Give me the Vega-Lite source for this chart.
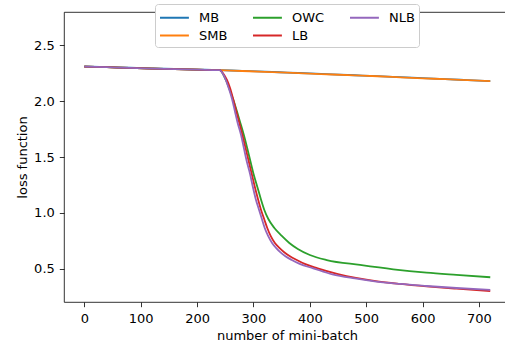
{
"$schema": "https://vega.github.io/schema/vega-lite/v6.json",
"autosize": "none",
"width": 446,
"height": 290,
"padding": {"left": 64, "top": 12, "right": 0, "bottom": 43},
"background": "white",
"config": {
  "font": "DejaVu Sans",
  "view": {"stroke": "#000", "strokeWidth": 0.8},
  "axis": {"grid": false, "domain": false, "tickColor": "#000", "tickSize": 4.7, "tickWidth": 0.8, "labelFontSize": 13, "labelColor": "#000", "titleFontSize": 13, "titleFontWeight": "normal", "titleColor": "#000"},
  "axisX": {"labelPadding": 6, "titlePadding": 4},
  "axisY": {"labelPadding": 5, "titlePadding": 4.5},
  "legend": {"fillColor": "white", "strokeColor": "#cccccc", "cornerRadius": 3, "padding": 4, "labelFontSize": 13, "labelColor": "#000", "symbolStrokeWidth": 2, "symbolSize": 289, "labelOffset": 21, "columnPadding": 21, "rowPadding": 1}
},
"data": {"values": [
{"method":"MB","batch":0,"loss":2.309},{"method":"MB","batch":40,"loss":2.303},{"method":"MB","batch":80,"loss":2.297},{"method":"MB","batch":120,"loss":2.291},{"method":"MB","batch":160,"loss":2.286},{"method":"MB","batch":200,"loss":2.281},{"method":"MB","batch":240,"loss":2.276},{"method":"MB","batch":280,"loss":2.269},{"method":"MB","batch":320,"loss":2.262},{"method":"MB","batch":360,"loss":2.254},{"method":"MB","batch":400,"loss":2.246},{"method":"MB","batch":440,"loss":2.238},{"method":"MB","batch":480,"loss":2.23},{"method":"MB","batch":520,"loss":2.222},{"method":"MB","batch":560,"loss":2.213},{"method":"MB","batch":600,"loss":2.204},{"method":"MB","batch":640,"loss":2.196},{"method":"MB","batch":680,"loss":2.187},{"method":"MB","batch":720,"loss":2.178},
{"method":"SMB","batch":0,"loss":2.308},{"method":"SMB","batch":40,"loss":2.302},{"method":"SMB","batch":80,"loss":2.296},{"method":"SMB","batch":120,"loss":2.29},{"method":"SMB","batch":160,"loss":2.285},{"method":"SMB","batch":200,"loss":2.28},{"method":"SMB","batch":240,"loss":2.275},{"method":"SMB","batch":280,"loss":2.268},{"method":"SMB","batch":320,"loss":2.261},{"method":"SMB","batch":360,"loss":2.253},{"method":"SMB","batch":400,"loss":2.245},{"method":"SMB","batch":440,"loss":2.237},{"method":"SMB","batch":480,"loss":2.229},{"method":"SMB","batch":520,"loss":2.221},{"method":"SMB","batch":560,"loss":2.212},{"method":"SMB","batch":600,"loss":2.203},{"method":"SMB","batch":640,"loss":2.195},{"method":"SMB","batch":680,"loss":2.186},{"method":"SMB","batch":720,"loss":2.177},
{"method":"OWC","batch":0,"loss":2.308},{"method":"OWC","batch":40,"loss":2.302},{"method":"OWC","batch":80,"loss":2.296},{"method":"OWC","batch":120,"loss":2.29},{"method":"OWC","batch":160,"loss":2.285},{"method":"OWC","batch":200,"loss":2.28},{"method":"OWC","batch":240,"loss":2.275},{"method":"OWC","batch":251,"loss":2.188},{"method":"OWC","batch":258,"loss":2.098},{"method":"OWC","batch":264.4,"loss":2.009},{"method":"OWC","batch":276.8,"loss":1.804},{"method":"OWC","batch":283,"loss":1.696},{"method":"OWC","batch":288.9,"loss":1.58},{"method":"OWC","batch":294.5,"loss":1.464},{"method":"OWC","batch":300.2,"loss":1.348},{"method":"OWC","batch":306.9,"loss":1.232},{"method":"OWC","batch":313.1,"loss":1.125},{"method":"OWC","batch":319.3,"loss":1.027},{"method":"OWC","batch":326.4,"loss":0.946},{"method":"OWC","batch":337.1,"loss":0.866},{"method":"OWC","batch":350.3,"loss":0.795},{"method":"OWC","batch":363.6,"loss":0.732},{"method":"OWC","batch":378.7,"loss":0.679},{"method":"OWC","batch":400,"loss":0.625},{"method":"OWC","batch":430,"loss":0.58},{"method":"OWC","batch":489,"loss":0.536},{"method":"OWC","batch":548,"loss":0.497},{"method":"OWC","batch":607,"loss":0.467},{"method":"OWC","batch":660,"loss":0.447},{"method":"OWC","batch":720,"loss":0.426},
{"method":"LB","batch":0,"loss":2.308},{"method":"LB","batch":40,"loss":2.302},{"method":"LB","batch":80,"loss":2.296},{"method":"LB","batch":120,"loss":2.29},{"method":"LB","batch":160,"loss":2.285},{"method":"LB","batch":200,"loss":2.28},{"method":"LB","batch":240,"loss":2.275},{"method":"LB","batch":247,"loss":2.241},{"method":"LB","batch":253,"loss":2.188},{"method":"LB","batch":258.5,"loss":2.116},{"method":"LB","batch":264,"loss":2.018},{"method":"LB","batch":269.5,"loss":1.911},{"method":"LB","batch":275,"loss":1.804},{"method":"LB","batch":280.5,"loss":1.696},{"method":"LB","batch":286,"loss":1.58},{"method":"LB","batch":291.5,"loss":1.464},{"method":"LB","batch":297,"loss":1.348},{"method":"LB","batch":302.5,"loss":1.232},{"method":"LB","batch":308,"loss":1.125},{"method":"LB","batch":313.5,"loss":1.027},{"method":"LB","batch":319,"loss":0.946},{"method":"LB","batch":324.5,"loss":0.866},{"method":"LB","batch":330.5,"loss":0.795},{"method":"LB","batch":338,"loss":0.732},{"method":"LB","batch":346,"loss":0.688},{"method":"LB","batch":354,"loss":0.652},{"method":"LB","batch":364,"loss":0.616},{"method":"LB","batch":377,"loss":0.58},{"method":"LB","batch":391,"loss":0.545},{"method":"LB","batch":414,"loss":0.506},{"method":"LB","batch":450,"loss":0.455},{"method":"LB","batch":520,"loss":0.39},{"method":"LB","batch":560,"loss":0.367},{"method":"LB","batch":607,"loss":0.345},{"method":"LB","batch":660,"loss":0.324},{"method":"LB","batch":720,"loss":0.302},
{"method":"NLB","batch":0,"loss":2.308},{"method":"NLB","batch":40,"loss":2.302},{"method":"NLB","batch":80,"loss":2.296},{"method":"NLB","batch":120,"loss":2.29},{"method":"NLB","batch":160,"loss":2.285},{"method":"NLB","batch":200,"loss":2.28},{"method":"NLB","batch":240,"loss":2.275},{"method":"NLB","batch":246,"loss":2.241},{"method":"NLB","batch":251,"loss":2.188},{"method":"NLB","batch":256,"loss":2.116},{"method":"NLB","batch":262,"loss":2.018},{"method":"NLB","batch":267,"loss":1.911},{"method":"NLB","batch":272,"loss":1.804},{"method":"NLB","batch":278,"loss":1.696},{"method":"NLB","batch":283,"loss":1.58},{"method":"NLB","batch":288,"loss":1.464},{"method":"NLB","batch":294,"loss":1.348},{"method":"NLB","batch":299,"loss":1.232},{"method":"NLB","batch":304,"loss":1.125},{"method":"NLB","batch":310,"loss":1.027},{"method":"NLB","batch":315,"loss":0.946},{"method":"NLB","batch":320,"loss":0.866},{"method":"NLB","batch":326,"loss":0.795},{"method":"NLB","batch":333,"loss":0.732},{"method":"NLB","batch":340,"loss":0.688},{"method":"NLB","batch":347,"loss":0.652},{"method":"NLB","batch":356,"loss":0.616},{"method":"NLB","batch":368,"loss":0.58},{"method":"NLB","batch":382,"loss":0.545},{"method":"NLB","batch":406,"loss":0.506},{"method":"NLB","batch":440,"loss":0.452},{"method":"NLB","batch":480,"loss":0.415},{"method":"NLB","batch":518,"loss":0.387},{"method":"NLB","batch":560,"loss":0.366},{"method":"NLB","batch":607,"loss":0.348},{"method":"NLB","batch":660,"loss":0.33},{"method":"NLB","batch":720,"loss":0.313}
]},
"mark": {"type": "line", "strokeWidth": 1.8, "interpolate": "monotone", "clip": true},
"encoding": {
  "x": {"field": "batch", "type": "quantitative", "scale": {"domain": [-36, 755], "nice": false, "zero": false}, "axis": {"values": [0,100,200,300,400,500,600,700], "title": "number of mini-batch"}},
  "y": {"field": "loss", "type": "quantitative", "scale": {"domain": [0.205, 2.795], "nice": false, "zero": false}, "axis": {"values": [0.5,1,1.5,2,2.5], "format": ".1f", "title": "loss function"}},
  "color": {"field": "method", "type": "nominal", "sort": ["MB","SMB","OWC","LB","NLB"], "scale": {"domain": ["MB","SMB","OWC","LB","NLB"], "range": ["#1f77b4","#ff7f0e","#2ca02c","#d62728","#9467bd"]}, "legend": {"orient": "none", "legendX": 91, "legendY": -8, "columns": 3, "title": null, "symbolType": "M-1,0H2.4"}}
}
}
